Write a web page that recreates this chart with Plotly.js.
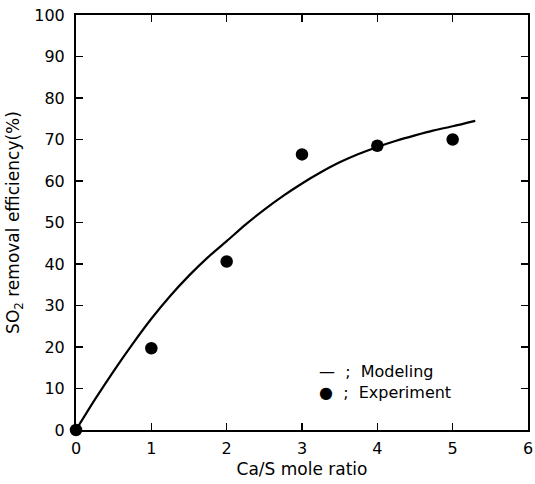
<!DOCTYPE html>
<html>
<head>
<meta charset="utf-8">
<script src="https://cdn.plot.ly/plotly-3.0.1.min.js"></script>
<style>html,body{margin:0;padding:0;background:#fff;}#chart{width:535px;height:484px;}</style>
</head>
<body>
<div id="chart"></div>
<script>
// Experimental data
var expX = [0, 1, 2, 3, 4, 5];
var expY = [0, 19.7, 40.6, 66.4, 68.5, 70.0];
// Modeling curve
var modX = [0, 0.25, 0.5, 0.75, 1, 1.25, 1.5, 1.75, 2, 2.25, 2.5, 2.75, 3, 3.25, 3.5, 3.75, 4, 4.25, 4.5, 4.75, 5, 5.3];
var modY = [0, 7.3, 14.2, 20.7, 26.8, 32.3, 37.2, 41.6, 45.5, 49.5, 53.1, 56.4, 59.4, 62.1, 64.5, 66.5, 68.2, 69.7, 71.0, 72.2, 73.2, 74.5];
var xTicks = [0, 1, 2, 3, 4, 5, 6];
var yTicks = [0, 10, 20, 30, 40, 50, 60, 70, 80, 90, 100];
var legendTexts = ["\u2014  ;  Modeling", "\u25CF  ;  Experiment"];

var font = {family: "DejaVu Sans", size: 16, color: "#000"};
var titleFont = {family: "DejaVu Sans", size: 17, color: "#000"};

var traces = [
  {x: modX, y: modY, mode: "lines", type: "scatter", line: {color: "#000", width: 2.2, shape: "spline", smoothing: 0.8}, showlegend: false, cliponaxis: false, name: "Modeling"},
  {x: expX, y: expY, mode: "markers", type: "scatter", marker: {color: "#000", size: 12.5}, showlegend: false, cliponaxis: false, name: "Experiment"}
];

var axisCommon = {
  showgrid: false, zeroline: false, showline: true, linecolor: "#000", linewidth: 2,
  mirror: "ticks", ticks: "inside", ticklen: 7, tickwidth: 1.5, tickcolor: "#000",
  tickfont: font
};

var layout = {
  width: 535, height: 484,
  margin: {l: 76, r: 7, t: 15, b: 54},
  paper_bgcolor: "#fff", plot_bgcolor: "#fff",
  font: font,
  xaxis: Object.assign({}, axisCommon, {
    range: [0, 6], tickvals: xTicks, ticktext: xTicks.map(String), ticklabelstandoff: 3,
    title: {text: "Ca/S mole ratio", font: titleFont, standoff: 6}
  }),
  yaxis: Object.assign({}, axisCommon, {
    range: [0, 100], tickvals: yTicks, ticktext: yTicks.map(String), ticklabelstandoff: 6,
    title: {text: "SO<sub>2</sub> removal efficiency(%)", font: titleFont, standoff: 10}
  }),
  annotations: [
    {x: 3.2, y: 14.0, xref: "x", yref: "y", text: legendTexts[0], showarrow: false, xanchor: "left", yanchor: "middle", font: font},
    {x: 3.2, y: 9.0, xref: "x", yref: "y", text: legendTexts[1], showarrow: false, xanchor: "left", yanchor: "middle", font: font}
  ]
};

Plotly.newPlot("chart", traces, layout, {displayModeBar: false, staticPlot: true});
</script>
</body>
</html>
